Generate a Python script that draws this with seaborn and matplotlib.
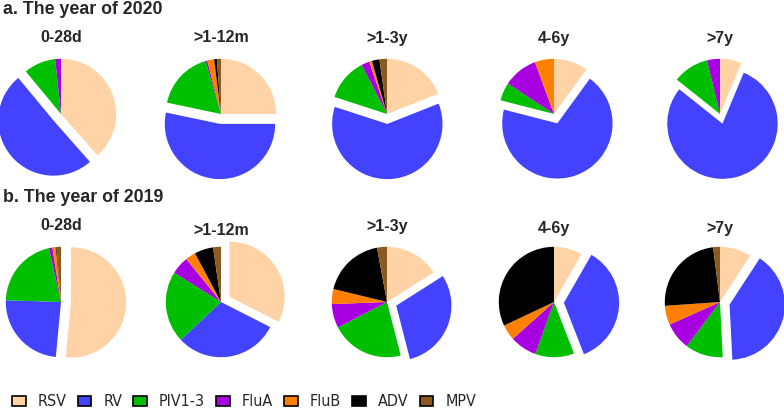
import matplotlib
matplotlib.use("Agg")
import matplotlib.pyplot as plt
from matplotlib import font_manager
from matplotlib.patches import Patch
import seaborn as sns

# virus share (%) per age group
age_groups = ["0-28d", ">1-12m", ">1-3y", "4-6y", ">7y"]
viruses = ["RSV", "RV", "PIV1-3", "FluA", "FluB", "ADV", "MPV"]
virus_colors = ["#FFD3A5", "#4343FF", "#00BF00", "#A800E0", "#FF7F00", "#000000", "#8C5A1E"]

share_2020 = [
    [38.5, 50.5, 9.3, 1.7, 0.0, 0.0, 0.0],
    [25.0, 53.3, 17.2, 0.5, 2.0, 0.8, 1.2],
    [19.0, 61.0, 12.4, 2.4, 0.8, 2.2, 2.2],
    [10.0, 69.0, 5.3, 10.1, 5.6, 0.0, 0.0],
    [6.3, 79.4, 10.5, 3.8, 0.0, 0.0, 0.0],
]
share_2019 = [
    [51.5, 24.0, 21.0, 1.0, 1.0, 0.2, 1.3],
    [32.5, 30.5, 20.9, 5.3, 3.0, 5.5, 2.3],
    [16.0, 30.0, 21.4, 7.0, 4.4, 18.3, 2.9],
    [8.3, 35.8, 11.4, 7.9, 4.6, 32.0, 0.0],
    [9.2, 40.0, 11.1, 8.0, 5.6, 24.1, 2.0],
]
exploded_2020 = ["RV", "RV", "RV", "RV", "RV"]
exploded_2019 = ["RSV", "RSV", "RV", "RV", "RV"]

sns.set_theme(style="white")
plt.rcParams["font.family"] = ["Liberation Sans", "DejaVu Sans"]
palette = sns.color_palette(virus_colors)

W, H = 784, 409
fig = plt.figure(figsize=(W / 100, H / 100), dpi=100)

x_centers = [61, 221, 387, 554, 720]
ax_px = 138


def draw_row(shares, exploded, y_center, title_ys, label, label_y):
    fig.text(3 / W, 1 - label_y / H, label, fontsize=12.8, fontweight="bold",
             va="center", ha="left")
    for xc, ty, grp, vals, ex in zip(x_centers, title_ys, age_groups, shares, exploded):
        ax = fig.add_axes([(xc - ax_px / 2) / W, 1 - (y_center + ax_px / 2) / H,
                           ax_px / W, ax_px / H])
        explode = [0.18 if v == ex else 0 for v in viruses]
        ax.pie(vals, colors=palette, explode=explode, startangle=90,
               counterclock=False, radius=1.0,
               wedgeprops=dict(linewidth=0))
        ax.set_aspect("equal")
        fig.text(xc / W, 1 - ty / H, grp, fontsize=11.5, fontweight="bold",
                 ha="center", va="center")


draw_row(share_2020, exploded_2020, 114, [38, 38, 38, 38, 38], "a. The year of 2020", 9)
draw_row(share_2019, exploded_2019, 302, [226, 230, 226, 228, 228], "b. The year of 2019", 198)

# legend font in the reference is a narrow sans; use one if it is there
names = {f.name for f in font_manager.fontManager.ttflist}
condensed = [f for f in font_manager.fontManager.ttflist
             if f.name == "DejaVu Sans" and "Condensed" in f.fname]
if "Liberation Sans Narrow" in names:
    leg_prop = {"family": "Liberation Sans Narrow", "size": 12.5}
    colsp = 1.3
elif condensed:
    leg_prop = {"family": "DejaVu Sans", "stretch": "condensed", "size": 11.5}
    colsp = 0.7
else:
    leg_prop = {"family": "Liberation Sans", "size": 10.5}
    colsp = 0.55

handles = [Patch(facecolor=c, edgecolor="black", linewidth=1.2, label=v)
           for v, c in zip(viruses, palette)]
fig.legend(handles=handles, loc="center left", bbox_to_anchor=(12 / W, 1 - 402 / H),
           ncol=7, frameon=False, handlelength=0.85, handleheight=0.55,
           handletextpad=0.75, columnspacing=colsp, borderaxespad=0, borderpad=0,
           prop=leg_prop)

fig.savefig("out.png", dpi=100)
